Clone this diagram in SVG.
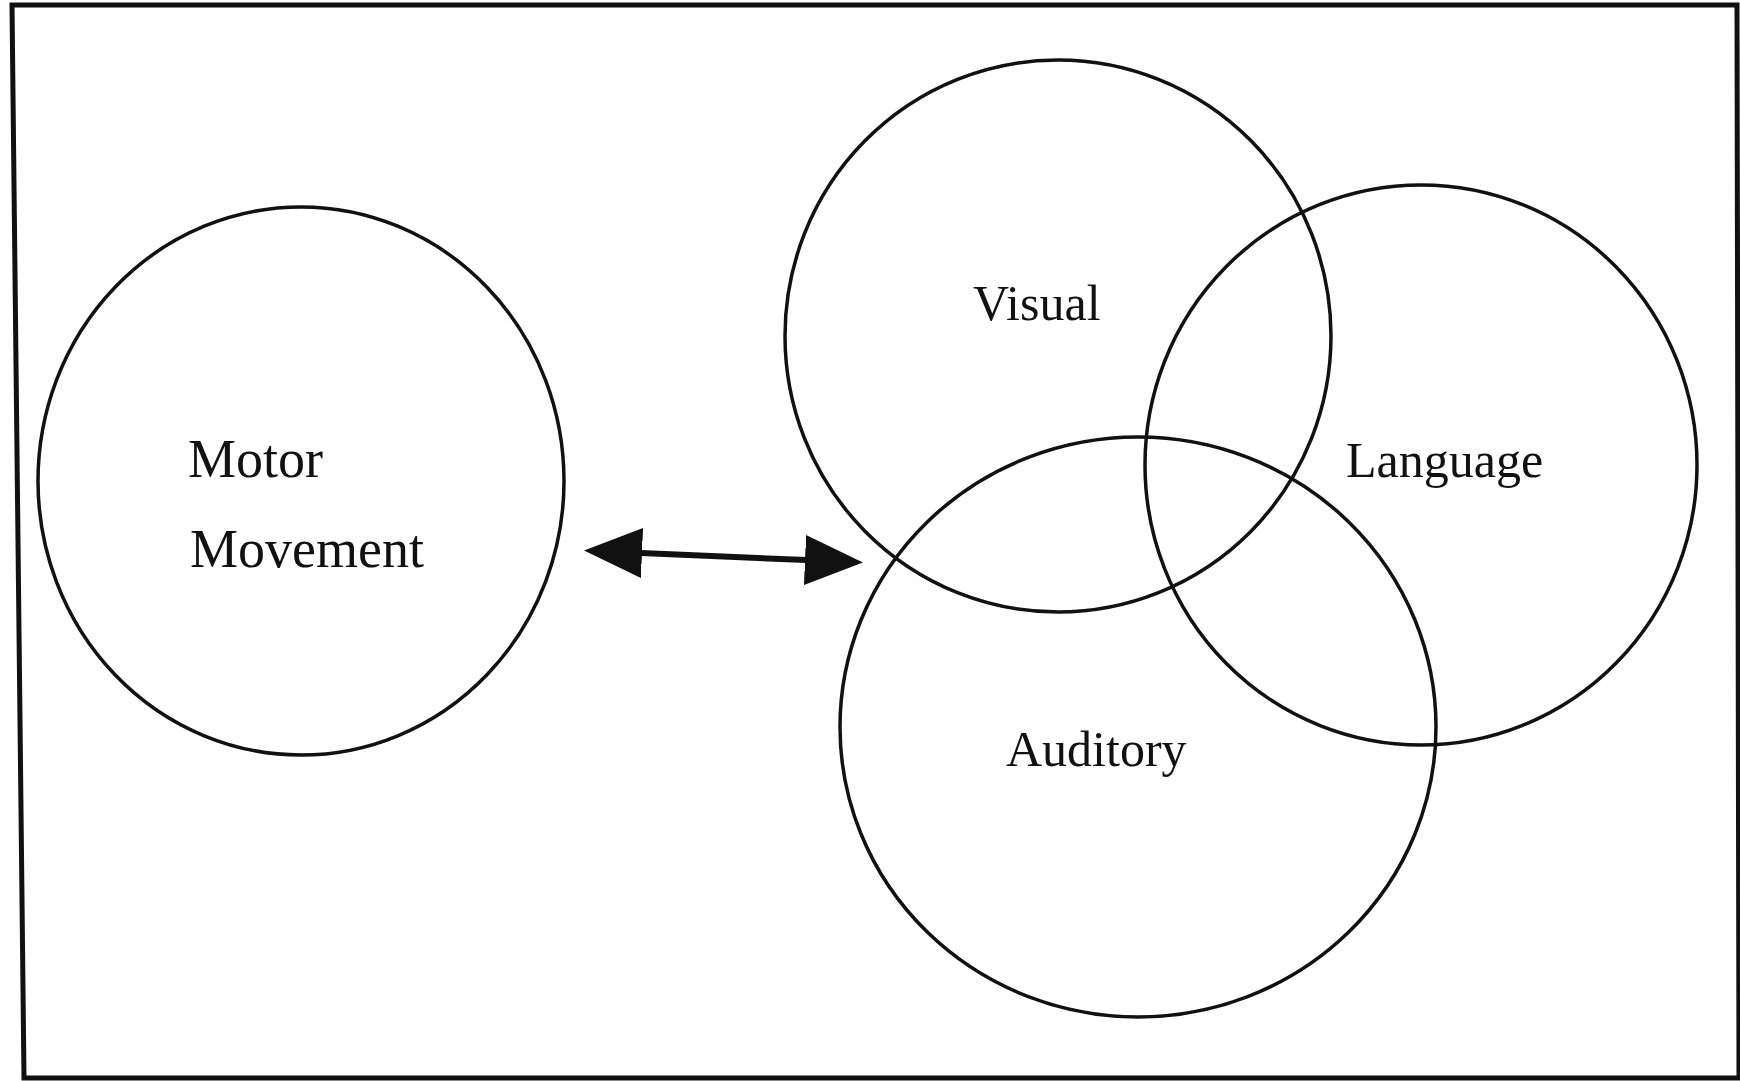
<svg xmlns="http://www.w3.org/2000/svg" width="1740" height="1081" viewBox="0 0 1740 1081">
  <style>
    .node { fill: none; stroke: #111; stroke-width: 3.5; }
    .lbl { font-family: "Liberation Serif", "Times New Roman", serif; fill: #111; }
    .big { font-size: 54px; }
    .mid { font-size: 50px; }
    .frame { fill: none; stroke: #111; stroke-width: 5; }
    .conn { fill: none; stroke: #111; stroke-width: 6; }
  </style>
  <defs>
    <marker id="head" viewBox="0 0 58 50" refX="1" refY="25" markerWidth="58" markerHeight="50" markerUnits="userSpaceOnUse" orient="auto-start-reverse">
      <path d="M0,0 L58,25 L0,50 Z" fill="#111"/>
    </marker>
  </defs>
  <rect width="1740" height="1081" fill="#fff"/>
  <path class="frame" d="M12,5 L1737,5 L1739,1078 L24,1078 Z"/>

  <g id="motor">
    <ellipse class="node" cx="301" cy="481" rx="263" ry="274"/>
    <text class="lbl big" x="188" y="477">Motor</text>
    <text class="lbl big" x="190" y="567">Movement</text>
  </g>
  <g id="visual">
    <ellipse class="node" cx="1058" cy="336" rx="273" ry="276"/>
    <text class="lbl mid" x="973" y="320">Visual</text>
  </g>
  <g id="language">
    <ellipse class="node" cx="1421" cy="465" rx="276" ry="280"/>
    <text class="lbl mid" x="1346" y="477">Language</text>
  </g>
  <g id="auditory">
    <ellipse class="node" cx="1138" cy="727" rx="298" ry="290"/>
    <text class="lbl mid" x="1006" y="766">Auditory</text>
  </g>

  <g id="connectors">
    <path class="conn" d="M641,553 L806,560" marker-start="url(#head)" marker-end="url(#head)"/>
  </g>
</svg>
